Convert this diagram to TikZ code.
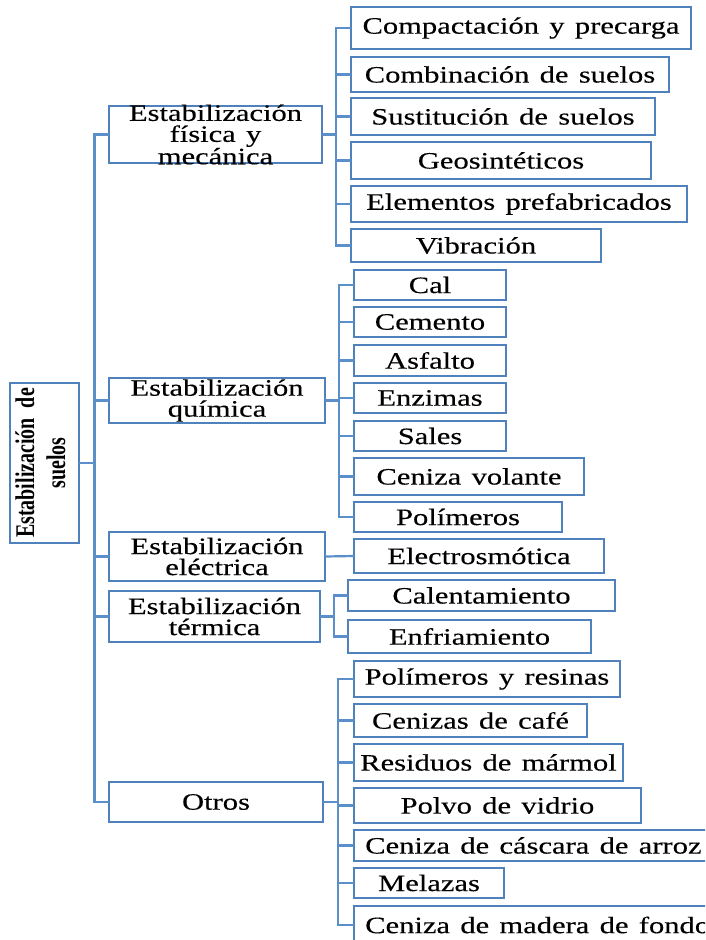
\documentclass[tikz,border=0pt]{standalone}
\usepackage{fontspec}
\newfontfamily\tnr[FakeStretch=1.30,WordSpace=1.35,FakeBold=0.3]{Liberation Serif}
\newfontfamily\rootf[FakeStretch=0.74,WordSpace=2.0]{Liberation Serif}
\definecolor{boxblue}{RGB}{79,129,189}
\definecolor{lineblue}{RGB}{91,143,201}
\tikzset{
  x=1pt,y=-1pt,
  box/.style={draw=boxblue,line width=2.4pt,fill=white,inner sep=0pt,outer sep=0pt},
  lbl/.style={inner sep=0pt,align=center,text=black,font=\tnr\fontsize{23.5}{21}\selectfont},
  rootlbl/.style={inner sep=0pt,align=center,text=black,font=\rootf\bfseries\fontsize{27}{31}\selectfont,rotate=90},
  conn/.style={draw=lineblue,line width=2.2pt},
}
\newcommand\mybox[6]{%
  \node[box,minimum width={#3-#2},minimum height={#5-#4}] (#1) at ({(#2+#3)/2},{(#4+#5)/2}) {};
  \node[lbl] at (#1) {#6};}
\newcommand\myboxw[6]{%
  \node[box,minimum width={#3-#2},minimum height={#5-#4}] (#1) at ({(#2+#3)/2},{(#4+#5)/2}) {};
  \node[lbl,anchor=west] at ([xshift=11pt]#1.west) {#6};}
\begin{document}
\begin{tikzpicture}
\useasboundingbox (0,0) rectangle (705,940);
\clip (0,0) rectangle (705,940);
\fill[white] (0,0) rectangle (705,940);
% bus points
\coordinate (rb) at (94.5,463);
\coordinate (bfis) at (336,134.5);
\coordinate (bqui) at (339,400.5);
\coordinate (bter) at (334,616.5);
\coordinate (botr) at (338,802);
% root
\node[box,minimum width=69,minimum height=160] (root) at (44.5,463) {};
\node[rootlbl] at (40.5,463) {Estabilización de\\suelos};
% level 1
\mybox{fis}{109}{322}{106}{163}{Estabilización\\física y\\mecánica}
\mybox{qui}{109}{325}{378}{423}{Estabilización\\química}
\mybox{ele}{109}{325}{532}{581}{Estabilización\\eléctrica}
\mybox{ter}{109}{320}{591}{642}{Estabilización\\térmica}
\mybox{otr}{109}{323}{782}{822}{Otros}
% physical group
\mybox{comp}{351}{691}{7}{49}{Compactación y precarga}
\mybox{comb}{351}{669}{57}{92}{Combinación de suelos}
\mybox{sust}{351}{655}{98}{135}{Sustitución de suelos}
\mybox{geo}{351}{651}{142}{179}{Geosintéticos}
\mybox{elem}{351}{687}{186}{222}{Elementos prefabricados}
\mybox{vib}{351}{601}{229}{262}{Vibración}
% chemical group
\mybox{cal}{354}{506}{270}{300}{Cal}
\mybox{cem}{354}{506}{307}{337}{Cemento}
\mybox{asf}{354}{506}{345}{376}{Asfalto}
\mybox{enz}{354}{506}{383}{413}{Enzimas}
\mybox{sal}{354}{506}{421}{451}{Sales}
\mybox{cvo}{354}{584}{458}{495}{Ceniza volante}
\mybox{pol}{354}{562}{502}{532}{Polímeros}
% electric
\mybox{elec}{354}{604}{539}{573}{Electrosmótica}
% thermal
\mybox{calt}{348}{615}{580}{611}{Calentamiento}
\mybox{enf}{348}{591}{620}{653}{Enfriamiento}
% others
\mybox{pyr}{354}{620}{661}{697}{Polímeros y resinas}
\mybox{caf}{354}{587}{704}{737}{Cenizas de café}
\mybox{res}{354}{623}{744}{781}{Residuos de mármol}
\mybox{pvi}{354}{641}{788}{823}{Polvo de vidrio}
\myboxw{ccar}{354}{730}{830}{861}{Ceniza de cáscara de arroz}
\mybox{mel}{354}{504}{868}{898}{Melazas}
\myboxw{cmad}{354}{730}{906}{944}{Ceniza de madera de fondo}
% connectors
\draw[conn] (root.east) -- (rb);
\foreach \n in {fis,qui,ele,ter,otr} \draw[conn] (rb) |- (\n.west);
\draw[conn] (fis.east) -- (bfis);
\foreach \n in {comp,comb,sust,geo,elem,vib} \draw[conn] (bfis) |- (\n.west);
\draw[conn] (qui.east) -- (bqui);
\foreach \n in {cal,cem,asf,enz,sal,cvo,pol} \draw[conn] (bqui) |- (\n.west);
\draw[conn] (ele.east) -- (elec.west);
\draw[conn] (ter.east) -- (bter);
\foreach \n in {calt,enf} \draw[conn] (bter) |- (\n.west);
\draw[conn] (otr.east) -- (botr);
\foreach \n in {pyr,caf,res,pvi,ccar,mel,cmad} \draw[conn] (botr) |- (\n.west);
\end{tikzpicture}
\end{document}
